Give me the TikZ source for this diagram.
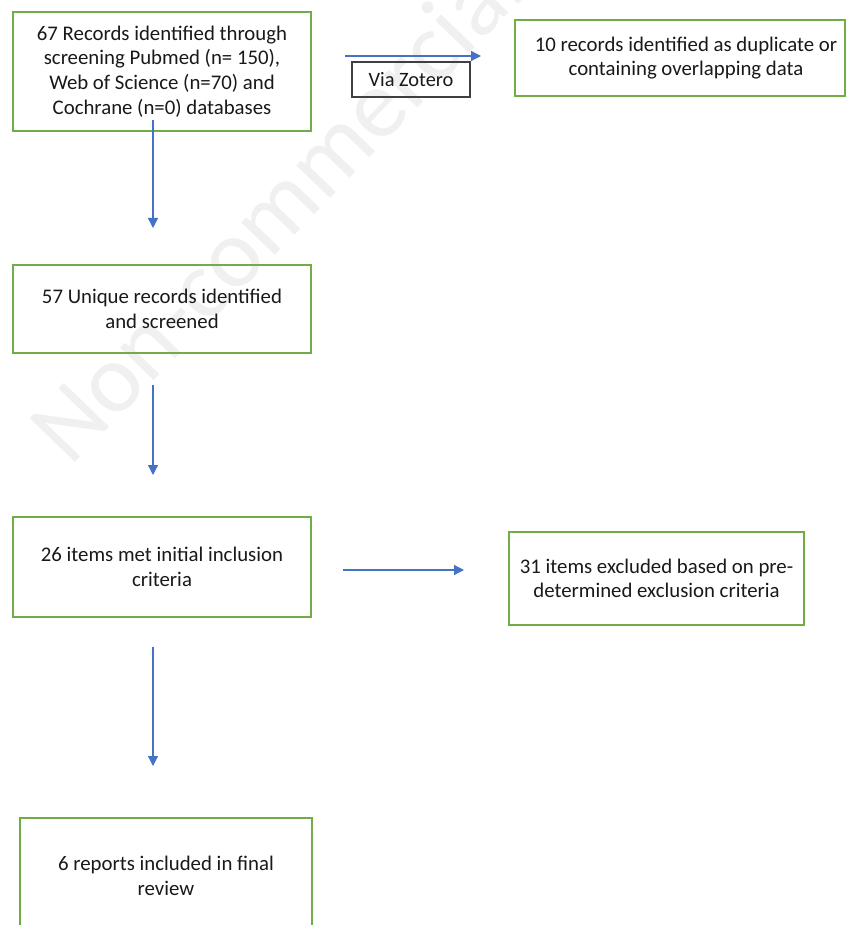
\documentclass[tikz,border=0pt]{standalone}
\usepackage{fontspec}
\setmainfont{Carlito}
\usetikzlibrary{arrows.meta}
\definecolor{boxgreen}{HTML}{70AD47}
\definecolor{arrblue}{HTML}{4472C4}
\definecolor{zgray}{HTML}{404040}
\definecolor{wmark}{HTML}{F0F0F0}
\tikzset{
  greenbox/.style={draw=boxgreen, line width=2pt, align=center, inner sep=0pt,
    font=\fontsize{20.8}{24.6}\selectfont, text=black!90},
  flowarrow/.style={draw=arrblue, line width=1.2pt, -{Triangle[length=10pt,width=10pt]}},
  viabox/.style={draw=zgray, line width=1.6pt, inner sep=0pt, font=\fontsize{20.4}{24.6}\selectfont, text=black!90},
  watermark/.style={text=wmark, font=\fontsize{98}{110}\selectfont, anchor=base west, rotate=46, inner sep=0pt}
}
\begin{document}
\begin{tikzpicture}[x=1pt,y=-1pt]
\useasboundingbox (0,0) rectangle (847,925);
\clip (0,0) rectangle (847,925);
\fill[white] (0,0) rectangle (847,925);
\node[watermark] (wm) at (70,468) {Non-commercial};

\node[greenbox, minimum width=298pt, minimum height=119pt] (b1) at (162,71.5)
  {67 Records identified through\\screening Pubmed (n= 150),\\Web of Science (n=70) and\\Cochrane (n=0) databases};
\node[greenbox, minimum width=330pt, minimum height=76pt] (b2) at (680,58)
  {\hspace*{12pt}10 records identified as duplicate or\\\hspace*{12pt}containing overlapping data};
\node[viabox, minimum width=118pt, minimum height=35pt] (vz) at (411,79.5) {Via Zotero};
\node[greenbox, minimum width=298pt, minimum height=88pt] (b3) at (162,309)
  {57 Unique records identified\\and screened};
\node[greenbox, minimum width=298pt, minimum height=100pt] (b4) at (162,567)
  {26 items met initial inclusion\\criteria};
\node[greenbox, minimum width=295pt, minimum height=93pt] (b5) at (656.5,578.5)
  {31 items excluded based on pre-\\determined exclusion criteria};
\node[greenbox, minimum width=292pt, minimum height=116pt] (b6) at (166,876)
  {6 reports included in final\\review};

\coordinate (a1s) at (153,120);
\coordinate (a1e) at (153,228);
\coordinate (a2s) at (345,56);
\coordinate (a2e) at (481,56);
\coordinate (a3s) at (153,385);
\coordinate (a3e) at (153,475);
\coordinate (a4s) at (343,570);
\coordinate (a4e) at (464,570);
\coordinate (a5s) at (153,647);
\coordinate (a5e) at (153,766);

\draw[flowarrow] (a1s) -- (a1e);
\draw[flowarrow] (a2s) -- (a2e);
\draw[flowarrow] (a3s) -- (a3e);
\draw[flowarrow] (a4s) -- (a4e);
\draw[flowarrow] (a5s) -- (a5e);
\end{tikzpicture}
\end{document}
